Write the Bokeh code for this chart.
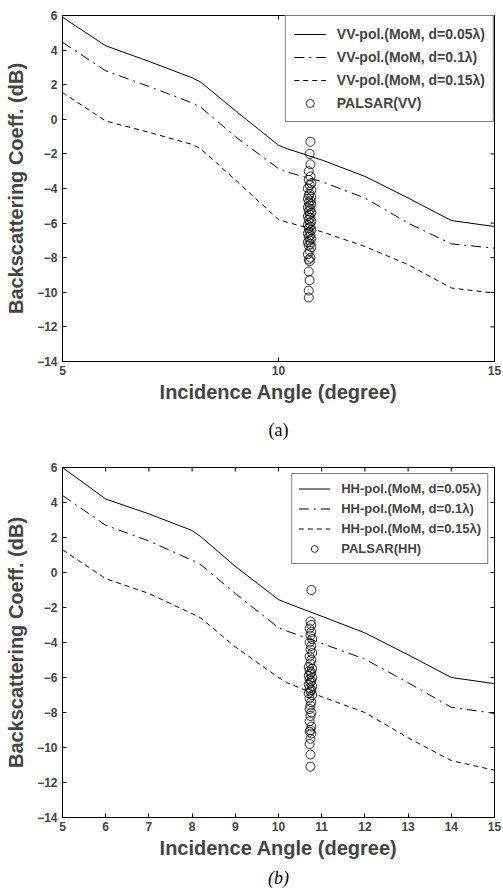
from bokeh.plotting import figure
from bokeh.models import Legend, LegendItem, FixedTicker, Title, Range1d
from bokeh.layouts import column
from bokeh.embed import file_html
from bokeh.resources import INLINE

# ---------------- data ----------------
x_curve = [5, 6, 7, 8, 8.2, 9, 10, 10.2, 11, 12, 13, 14, 15]

vv_005 = [5.9, 4.25, 3.35, 2.4, 2.15, 0.5, -1.5, -1.7, -2.35, -3.3, -4.55, -5.85, -6.2]
vv_01 = [4.45, 2.8, 1.9, 0.95, 0.7, -1.0, -2.85, -3.05, -3.6, -4.55, -6.0, -7.2, -7.45]
vv_015 = [1.55, -0.1, -0.75, -1.45, -1.7, -3.5, -5.8, -5.95, -6.5, -7.35, -8.4, -9.75, -10.05]

hh_005 = [6.0, 4.2, 3.35, 2.4, 2.05, 0.35, -1.55, -1.75, -2.5, -3.45, -4.7, -6.0, -6.35]
hh_01 = [4.4, 2.7, 1.8, 0.7, 0.45, -1.2, -3.15, -3.35, -4.05, -4.95, -6.3, -7.7, -8.05]
hh_015 = [1.3, -0.35, -1.2, -2.35, -2.6, -4.25, -6.0, -6.3, -7.1, -8.0, -9.45, -10.75, -11.3]

vv_obs_y = [-1.3, -2.0, -2.6, -3.0, -3.3, -3.5, -3.7, -3.8, -4.0, -4.1, -4.3, -4.4,
            -4.5, -4.6, -4.7, -4.8, -4.9, -5.0, -5.1, -5.2, -5.3, -5.4, -5.5, -5.6,
            -5.7, -5.8, -5.9, -6.0, -6.1, -6.2, -6.3, -6.4, -6.5, -6.6, -6.7, -6.8,
            -6.9, -7.0, -7.1, -7.2, -7.3, -7.4, -7.6, -7.8, -8.0, -8.1, -8.2, -8.8,
            -9.3, -9.9, -10.3]
vv_obs_x = [10.74, 10.72, 10.74, 10.70, 10.74, 10.70, 10.76, 10.72, 10.68, 10.76, 10.72, 10.70,
            10.76, 10.68, 10.74, 10.70, 10.76, 10.72, 10.68, 10.74, 10.70, 10.76, 10.72, 10.68,
            10.74, 10.70, 10.76, 10.72, 10.68, 10.74, 10.70, 10.76, 10.72, 10.68, 10.74, 10.70,
            10.76, 10.72, 10.68, 10.74, 10.70, 10.76, 10.72, 10.68, 10.74, 10.70, 10.72, 10.70,
            10.72, 10.70, 10.70]

hh_obs_y = [-1.0, -2.8, -3.0, -3.2, -3.4, -3.6, -3.8, -4.0, -4.2, -4.4, -4.6, -4.8,
            -5.0, -5.2, -5.4, -5.5, -5.6, -5.7, -5.8, -5.9, -6.0, -6.1, -6.2, -6.3,
            -6.4, -6.5, -6.6, -6.7, -6.8, -6.9, -7.0, -7.2, -7.4, -7.6, -7.8, -8.0,
            -8.2, -8.5, -8.8, -9.0, -9.1, -9.2, -9.5, -9.8, -10.4, -11.1]
hh_obs_x = [10.76, 10.74, 10.76, 10.72, 10.76, 10.74, 10.78, 10.72, 10.76, 10.74, 10.78, 10.72,
            10.76, 10.74, 10.70, 10.78, 10.72, 10.76, 10.74, 10.70, 10.78, 10.72, 10.76, 10.74,
            10.70, 10.78, 10.72, 10.76, 10.74, 10.70, 10.78, 10.72, 10.76, 10.74, 10.72, 10.76,
            10.74, 10.72, 10.76, 10.74, 10.72, 10.76, 10.74, 10.72, 10.74, 10.74]

y_ticks = [-14, -12, -10, -8, -6, -4, -2, 0, 2, 4, 6]
x_ticks_a = [5, 10, 15]
x_ticks_b = [5, 6, 7, 8, 9, 10, 11, 12, 13, 14, 15]

labels_a = ["VV-pol.(MoM, d=0.05\u03bb)", "VV-pol.(MoM, d=0.1\u03bb)",
            "VV-pol.(MoM, d=0.15\u03bb)", "PALSAR(VV)"]
labels_b = ["HH-pol.(MoM, d=0.05\u03bb)", "HH-pol.(MoM, d=0.1\u03bb)",
            "HH-pol.(MoM, d=0.15\u03bb)", "PALSAR(HH)"]

SANS = "Liberation Sans"
SERIF = "Liberation Serif"
X0, X1, Y0, Y1 = 5, 15, -14, 6
W = 503


def make_panel(height, b_left, b_right, b_top, b_bottom, xt, c1, c2, c3, ox, oy,
               labels, caption, cap_style, cap_standoff, leg_font, leg_row, leg_pad,
               leg_margin):
    p = figure(width=W, height=height, output_backend="svg", toolbar_location=None,
               x_range=Range1d(X0, X1), y_range=Range1d(Y0, Y1),
               min_border_left=b_left, min_border_right=b_right,
               min_border_top=b_top, min_border_bottom=b_bottom)
    p.grid.visible = False
    p.outline_line_color = "black"
    p.outline_line_width = 1
    p.background_fill_color = "white"
    p.border_fill_color = "white"

    for ax in (p.xaxis[0], p.yaxis[0]):
        ax.major_tick_in = 4
        ax.major_tick_out = 0
        ax.minor_tick_in = 0
        ax.minor_tick_out = 0
        ax.axis_line_color = "black"
        ax.major_label_text_font = SANS
        ax.major_label_text_font_style = "bold"
        ax.major_label_text_font_size = "12px"
        ax.axis_label_text_font = SANS
        ax.axis_label_text_font_style = "bold"
        ax.axis_label_text_font_size = "20px"
        ax.major_label_standoff = 4
    p.yaxis[0].major_label_standoff = 5
    p.xaxis[0].ticker = FixedTicker(ticks=xt)
    p.yaxis[0].ticker = FixedTicker(ticks=y_ticks)
    p.xaxis[0].axis_label = "Incidence Angle (degree)"
    p.yaxis[0].axis_label = "Backscattering Coeff. (dB)"
    p.xaxis[0].axis_label_standoff = 3
    p.yaxis[0].axis_label_standoff = 7

    # box ticks on the top and right edges (tick length ~4 px expressed in data units)
    frame_w = W - b_left - b_right
    frame_h = height - b_top - b_bottom
    tx = 4.0 * (X1 - X0) / frame_w
    ty = 4.0 * (Y1 - Y0) / frame_h
    p.segment(x0=xt, y0=[Y1] * len(xt), x1=xt, y1=[Y1 - ty] * len(xt),
              line_color="black", line_width=1)
    p.segment(x0=[X1] * len(y_ticks), y0=y_ticks, x1=[X1 - tx] * len(y_ticks), y1=y_ticks,
              line_color="black", line_width=1)

    r1 = p.line(x_curve, c1, line_color="black", line_width=1)
    r2 = p.line(x_curve, c2, line_color="black", line_width=1, line_dash="10 5 2 5")
    r3 = p.line(x_curve, c3, line_color="black", line_width=1, line_dash="5 4")
    r4 = p.scatter(ox, oy, marker="circle", size=9, fill_color=None,
                   line_color="black", line_width=0.8)

    legend = Legend(items=[LegendItem(label=labels[0], renderers=[r1]),
                           LegendItem(label=labels[1], renderers=[r2]),
                           LegendItem(label=labels[2], renderers=[r3]),
                           LegendItem(label=labels[3], renderers=[r4])],
                    location="top_right", margin=leg_margin,
                    label_text_font=SANS, label_text_font_style="bold",
                    label_text_font_size=leg_font, glyph_width=32,
                    glyph_height=leg_row, label_height=leg_row, spacing=3,
                    padding=leg_pad, label_standoff=11,
                    border_line_color="black", border_line_width=1,
                    background_fill_alpha=1.0)
    p.add_layout(legend, "center")

    cap = Title(text=caption, align="center", text_font=SERIF, text_font_size="18px",
                text_font_style=cap_style, text_color="black", standoff=cap_standoff)
    p.add_layout(cap, "below")
    return p


# top panel: frame 62..494 x 15..361 ; bottom panel: frame 60..497 x 467..818
p1 = make_panel(455, 62, 9, 15, 94, x_ticks_a, vv_005, vv_01, vv_015,
                vv_obs_x, vv_obs_y, labels_a, "(a)", "normal", 25, "14px", 20, 8, 0)
p2 = make_panel(436, 60, 6, 12, 73, x_ticks_b, hh_005, hh_01, hh_015,
                hh_obs_x, hh_obs_y, labels_b, "(b)", "italic", 8, "13px", 17, 6, 6)

layout = column(p1, p2, spacing=0)
open("out.html", "w").write(file_html(layout, INLINE))
